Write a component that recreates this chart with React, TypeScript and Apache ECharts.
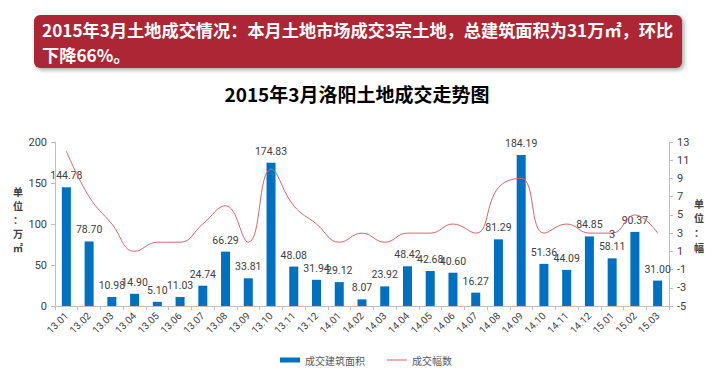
import React, { useEffect, useRef } from "react";
import * as echarts from "echarts";

const categories = [
  "13.01", "13.02", "13.03", "13.04", "13.05", "13.06", "13.07", "13.08", "13.09",
  "13.10", "13.11", "13.12", "14.01", "14.02", "14.03", "14.04", "14.05", "14.06",
  "14.07", "14.08", "14.09", "14.10", "14.11", "14.12", "15.01", "15.02", "15.03",
];
const areaValues = [
  144.78, 78.7, 10.98, 14.9, 5.1, 11.03, 24.74, 66.29, 33.81, 174.83, 48.08, 31.94,
  29.12, 8.07, 23.92, 48.42, 42.68, 40.6, 16.27, 81.29, 184.19, 51.36, 44.09, 84.85,
  58.11, 90.37, 31.0,
];
const countValues = [12, 7, 4, 1, 2, 2, 4, 6, 2, 10, 6, 4, 2, 3, 2, 3, 3, 4, 3, 8, 9, 3, 4, 3, 3, 5, 3];
const countLabelIndex = [24];
const leftTicks = { min: 0, max: 200, interval: 50 };
const rightTicks = { min: -5, max: 13, interval: 2 };

const headline = [
  "2015年3月土地成交情况：本月土地市场成交3宗土地，总建筑面积为31万㎡，环比",
  "下降66%。",
];
const chartTitle = "2015年3月洛阳土地成交走势图";
const seriesNames = ["成交建筑面积", "成交幅数"];
const leftAxisName = ["单", "位", "：", "万", "㎡"];
const rightAxisName = ["单", "位", "：", "幅"];

const CJK = '"Noto Sans CJK SC", "Noto Sans", sans-serif';
const NUM = 'Roboto, "Noto Sans", sans-serif';

export default function App() {
  const ref = useRef<HTMLDivElement>(null);
  useEffect(() => {
    if (!ref.current) return;
    const chart = echarts.init(ref.current, null, { renderer: "svg" });
    const shift = -rightTicks.min;
    const nameChars = (chars: string[], x: number, y0: number, step: number) =>
      chars.map((c, i) => ({
        type: "text",
        x,
        y: y0 + i * step,
        style: {
          text: c,
          fill: "#404040",
          fontSize: 10,
          fontWeight: "bold",
          fontFamily: CJK,
          align: "center",
          verticalAlign: "middle",
        },
      }));
    const headlineTexts = headline.map((t, i) => ({
      type: "text",
      x: 42,
      y: 29 + i * 25,
      style: {
        text: t,
        fill: "#ffffff",
        fontSize: 17.2,
        fontWeight: "bold",
        fontFamily: CJK,
        verticalAlign: "middle",
      },
    }));
    chart.setOption({
      animation: false,
      backgroundColor: "#ffffff",
      grid: { left: 55, right: 44, top: 142, bottom: 68, containLabel: false },
      legend: {
        bottom: 4,
        left: 275,
        itemWidth: 20,
        itemHeight: 5,
        itemGap: 22,
        textStyle: { fontSize: 10, color: "#595959", fontFamily: CJK },
        data: [
          { name: seriesNames[0], icon: "rect" },
          { name: seriesNames[1], icon: "path://M0,0 L20,0 L20,1 L0,1 Z" },
        ],
      },
      graphic: [
        {
          type: "rect",
          shape: { x: 34, y: 15, width: 648, height: 53, r: 6 },
          style: {
            fill: "#ad2535",
            shadowBlur: 4,
            shadowOffsetX: 2,
            shadowOffsetY: 2,
            shadowColor: "rgba(0,0,0,0.35)",
          },
        },
        ...headlineTexts,
        {
          type: "text",
          x: 357,
          y: 93,
          style: {
            text: chartTitle,
            fill: "#000000",
            fontSize: 19,
            fontWeight: "bold",
            fontFamily: CJK,
            align: "center",
            verticalAlign: "middle",
          },
        },
        ...nameChars(leftAxisName, 18, 191, 14),
        ...nameChars(rightAxisName, 699, 203, 14.7),
      ],
      xAxis: {
        type: "category",
        data: categories,
        boundaryGap: true,
        axisLine: { lineStyle: { color: "#bfbfbf" } },
        axisTick: { show: true, alignWithLabel: false, length: 4, lineStyle: { color: "#bfbfbf" } },
        axisLabel: {
          rotate: 45,
          interval: 0,
          fontSize: 10,
          color: "#404040",
          fontFamily: NUM,
          margin: 8,
        },
      },
      yAxis: [
        {
          type: "value",
          min: leftTicks.min,
          max: leftTicks.max,
          interval: leftTicks.interval,
          splitLine: { show: false },
          axisLine: { show: true, lineStyle: { color: "#bfbfbf" } },
          axisTick: { show: true, length: 4, lineStyle: { color: "#bfbfbf" } },
          axisLabel: { fontSize: 11, color: "#404040", fontFamily: NUM, margin: 8 },
        },
        {
          type: "value",
          position: "right",
          min: rightTicks.min + shift,
          max: rightTicks.max + shift,
          interval: rightTicks.interval,
          splitLine: { show: false },
          axisLine: { show: true, lineStyle: { color: "#bfbfbf" } },
          axisTick: { show: true, length: 4, lineStyle: { color: "#bfbfbf" } },
          axisLabel: {
            fontSize: 11,
            color: "#404040",
            fontFamily: NUM,
            margin: 8,
            formatter: (v: number) => String(v - shift),
          },
        },
      ],
      series: [
        {
          name: seriesNames[0],
          type: "bar",
          yAxisIndex: 0,
          barWidth: 9,
          data: areaValues,
          itemStyle: { color: "#0070c0" },
          label: {
            show: true,
            position: "top",
            distance: 6,
            fontSize: 10.5,
            color: "#404040",
            fontFamily: NUM,
            formatter: (p: any) => Number(p.value).toFixed(2),
          },
          z: 2,
        },
        {
          name: seriesNames[1],
          type: "line",
          yAxisIndex: 1,
          smooth: 0.45,
          symbol: "circle",
          symbolSize: 0,
          showSymbol: true,
          lineStyle: { color: "#d9636b", width: 1 },
          itemStyle: { color: "#d9636b" },
          label: { show: false },
          data: countValues.map((v, i) => ({
            value: v + shift,
            label: countLabelIndex.includes(i)
              ? {
                  show: true,
                  position: "bottom",
                  distance: -4,
                  fontSize: 11,
                  color: "#404040",
                  fontFamily: NUM,
                  formatter: () => String(v),
                }
              : { show: false },
          })),
          z: 3,
        },
      ],
    });
    return () => chart.dispose();
  }, []);
  return (
    <div
      ref={ref}
      style={{ position: "fixed", left: 0, top: 0, width: 713, height: 374 }}
    />
  );
}
